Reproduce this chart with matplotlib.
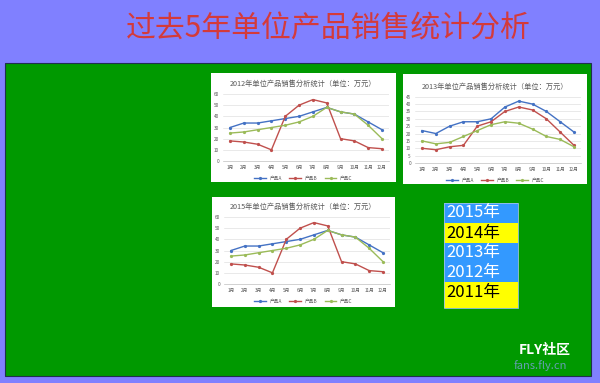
import matplotlib
matplotlib.use('Agg')
from matplotlib import pyplot as plt
from matplotlib.patches import Rectangle

plt.rcParams['font.family'] = ['Noto Sans CJK SC', 'DejaVu Sans']

months = ['1月', '2月', '3月', '4月', '5月', '6月', '7月', '8月', '9月', '10月', '11月', '12月']
series_names = ['产品A', '产品B', '产品C']

# 2012 / 2015 data (same values in both charts)
a_2012 = [30, 34, 34, 36, 38, 40, 44, 48, 44, 42, 35, 28]
b_2012 = [18, 17, 15, 10, 40, 50, 55, 52, 20, 18, 12, 11]
c_2012 = [25, 26, 28, 30, 32, 35, 40, 48, 44, 42, 32, 20]

a_2013 = [22, 20, 25, 28, 28, 30, 38, 42, 40, 35, 28, 21]
b_2013 = [10, 9, 11, 12, 25, 28, 35, 38, 36, 30, 21, 12]
c_2013 = [15, 13, 14, 18, 22, 26, 28, 27, 23, 18, 16, 11]

a_2015 = [30, 34, 34, 36, 38, 40, 44, 48, 44, 42, 35, 28]
b_2015 = [18, 17, 15, 10, 40, 50, 55, 52, 20, 18, 12, 11]
c_2015 = [25, 26, 28, 30, 32, 35, 40, 48, 44, 42, 32, 20]

year_labels = ['2015年', '2014年', '2013年', '2012年', '2011年']
year_colors = ['#3399FF', '#FFFF00', '#3399FF', '#3399FF', '#FFFF00']
year_text_colors = ['white', 'black', 'white', 'white', 'black']

colors = ['#4472C4', '#C0504D', '#9BBB59']

W, H = 600, 383
fig = plt.figure(figsize=(6, 3.83), dpi=100)
fig.patch.set_facecolor('#8080FF')


def box(l, t, r, b):
    # pixel box -> figure coords
    return [l / W, 1 - b / H, (r - l) / W, (b - t) / H]


def rect(l, t, r, b, z=-1, **kw):
    x, y, w, h = box(l, t, r, b)
    fig.patches.append(Rectangle((x, y), w, h, transform=fig.transFigure,
                                 zorder=z, **kw))


# title
fig.text(328 / W, 1 - 29 / H, '过去5年单位产品销售统计分析', color='#D43A3A',
         fontsize=21.5, ha='center', va='center')

# green panel
rect(5, 63, 591, 376, z=-3, facecolor='#009900', edgecolor='#203050', lw=0.8)


def chart(card, plot, title, a, b, c, ymax, step, title_y, legend_y):
    rect(*card, z=-2, facecolor='white', edgecolor='none')
    ax = fig.add_axes(box(*plot))
    ax.set_facecolor('none')
    x = range(len(months))
    for vals, col, name in zip([a, b, c], colors, series_names):
        ax.plot(x, vals, color=col, lw=1.0, marker='o', ms=1.3, label=name)
    ax.set_xlim(-0.5, 11.5)
    ax.set_ylim(0, ymax)
    ax.set_yticks(range(0, ymax + 1, step))
    ax.set_xticks(list(x))
    ax.set_xticklabels(months)
    ax.tick_params(labelsize=3.4, colors='#595959', length=0, pad=3)
    ax.grid(axis='y', color='#D9D9D9', lw=0.4)
    ax.set_axisbelow(True)
    for s in ['top', 'right', 'left']:
        ax.spines[s].set_visible(False)
    ax.spines['bottom'].set_color('#BFBFBF')
    ax.spines['bottom'].set_linewidth(0.5)
    cx = (card[0] + card[2]) / 2
    fig.text(cx / W, 1 - title_y / H, title, fontsize=5.2, color='#595959',
             ha='center', va='center')
    ax.legend(loc='center', bbox_to_anchor=(cx / W, 1 - legend_y / H),
              bbox_transform=fig.transFigure, ncol=3, fontsize=3.4,
              frameon=False, handlelength=2.5, columnspacing=1.5,
              labelcolor='#595959')


chart((211, 73, 396, 182), (223.1, 94, 388.9, 161),
      '2012年单位产品销售分析统计（单位：万元）', a_2012, b_2012, c_2012, 60, 10, 84, 178)
chart((403, 74, 587, 184), (415.1, 96.7, 580.9, 163),
      '2013年单位产品销售分析统计（单位：万元）', a_2013, b_2013, c_2013, 45, 5, 86.5, 180)
chart((212, 197, 395, 307), (224.1, 217, 389.9, 284),
      '2015年单位产品销售分析统计（单位：万元）', a_2015, b_2015, c_2015, 60, 10, 207, 301)

# year list
row_edges = [203, 223, 243, 262, 282, 308]
for i, (lab, fc, tc) in enumerate(zip(year_labels, year_colors, year_text_colors)):
    rect(444, row_edges[i], 518, row_edges[i + 1], z=-2, facecolor=fc, edgecolor='none')
    fig.text(446 / W, 1 - (row_edges[i] + 10) / H, lab, fontsize=12, color=tc,
             ha='left', va='center')
rect(444, 203, 518, 308, z=-1, facecolor='none', edgecolor='#9DC3E6', lw=0.6)

# watermark
fig.text(545 / W, 1 - 350 / H, 'FLY社区', fontsize=10, color='white',
         style='italic', fontweight='bold', ha='center', va='center')
fig.text(540 / W, 1 - 366 / H, 'fans.fly.cn', fontsize=8, color='#7FA0E0',
         style='italic', ha='center', va='center', alpha=0.8)

fig.savefig('out.png', dpi=100, facecolor=fig.get_facecolor())
